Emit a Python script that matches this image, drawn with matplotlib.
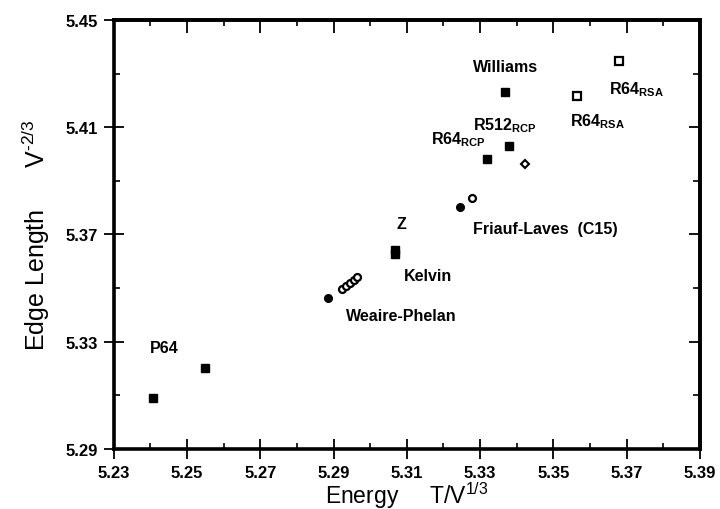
import numpy as np
import matplotlib
matplotlib.use('Agg')
import matplotlib.pyplot as plt
from matplotlib.ticker import FormatStrFormatter

plt.rcParams['font.family'] = ['Liberation Sans', 'DejaVu Sans']
plt.rcParams['mathtext.fontset'] = 'custom'
plt.rcParams['mathtext.rm'] = 'Liberation Sans'
plt.rcParams['mathtext.it'] = 'Liberation Sans'
plt.rcParams['mathtext.bf'] = 'Liberation Sans:bold'

# filled squares: P64 (2), Z, Kelvin, R64 RCP, R512 RCP, Williams
sq_energy = [5.2408, 5.2549, 5.3067, 5.3068, 5.3318, 5.3380, 5.3368]
sq_edge = [5.3089, 5.3203, 5.3642, 5.3625, 5.3980, 5.4029, 5.4232]
# filled circles: Weaire-Phelan, Friauf-Laves
dot_energy = [5.2886, 5.3245]
dot_edge = [5.3463, 5.3803]
# open circles: Weaire-Phelan variants, Friauf-Laves
ring_energy = [5.2924, 5.2934, 5.2945, 5.2955, 5.2965, 5.3278]
ring_edge = [5.3497, 5.3508, 5.3518, 5.3529, 5.3540, 5.3834]
# open squares: R64 RSA
box_energy = [5.3566, 5.3678]
box_edge = [5.4217, 5.4347]
# open diamond
dia_energy = [5.3422]
dia_edge = [5.3961]

# structure names
label_text = ['Williams', r'R64$_{\mathbf{RSA}}$', r'R512$_{\mathbf{RCP}}$',
              r'R64$_{\mathbf{RSA}}$', r'R64$_{\mathbf{RCP}}$',
              'Friauf-Laves  (C15)', 'Z', 'Kelvin', 'Weaire-Phelan', 'P64']
label_x = [5.3282, 5.3651, 5.3282, 5.3546, 5.3167, 5.3282, 5.3072, 5.3092, 5.2934, 5.2399]
label_y = [5.4310, 5.4227, 5.4093, 5.4105, 5.4041, 5.3705, 5.3722, 5.3530, 5.3380, 5.3262]

x_major = [5.23, 5.25, 5.27, 5.29, 5.31, 5.33, 5.35, 5.37, 5.39]
x_minor = [5.24, 5.26, 5.28, 5.30, 5.32, 5.34, 5.36, 5.38]
y_major = [5.29, 5.33, 5.37, 5.41, 5.45]
y_minor = [5.31, 5.35, 5.39, 5.43]

fig = plt.figure(figsize=(7.2, 5.1), dpi=100)
ax = fig.add_axes([0.158, 0.118, 0.814, 0.841])

ax.plot(sq_energy, sq_edge, 's', color='black', markersize=5.5, linestyle='none')
ax.plot(dot_energy, dot_edge, 'o', color='black', markersize=5.5, linestyle='none')
ax.plot(ring_energy, ring_edge, 'o', markerfacecolor='white', markeredgecolor='black',
        markersize=5, markeredgewidth=1.6, linestyle='none')
ax.plot(box_energy, box_edge, 's', markerfacecolor='white', markeredgecolor='black',
        markersize=5.5, markeredgewidth=1.6, linestyle='none')
ax.plot(dia_energy, dia_edge, 'D', markerfacecolor='white', markeredgecolor='black',
        markersize=4.5, markeredgewidth=1.5, linestyle='none')

for txt, x, y in zip(label_text, label_x, label_y):
    ax.text(x, y, txt, fontsize=11.5, fontweight='bold', ha='left', va='baseline')

ax.set_xlim(5.23, 5.39)
ax.set_ylim(5.29, 5.45)

ax.set_xticks(x_major)
ax.set_xticks(x_minor, minor=True)
ax.set_yticks(y_major)
ax.set_yticks(y_minor, minor=True)
ax.xaxis.set_major_formatter(FormatStrFormatter('%.2f'))
ax.yaxis.set_major_formatter(FormatStrFormatter('%.2f'))

ax.tick_params(which='major', direction='inout', length=15, width=1.3,
               labelsize=12, pad=4)
ax.tick_params(which='minor', direction='in', length=4, width=1.2)
for lab in ax.get_xticklabels() + ax.get_yticklabels():
    lab.set_fontweight('bold')

for sp in ax.spines.values():
    sp.set_linewidth(2.6)

top = ax.secondary_xaxis('top')
top.set_xticks(x_major)
top.set_xticks(x_minor, minor=True)
top.tick_params(which='major', direction='in', length=9, width=1.3, labeltop=False)
top.tick_params(which='minor', direction='in', length=4, width=1.2)
top.spines['top'].set_linewidth(2.6)

right = ax.secondary_yaxis('right')
right.set_yticks(y_major)
right.set_yticks(y_minor, minor=True)
right.tick_params(which='major', direction='in', length=8, width=1.3, labelright=False)
right.tick_params(which='minor', direction='in', length=5, width=1.2)
right.spines['right'].set_linewidth(2.6)

ax.set_xlabel('Energy     T/V$^{1/3}$', fontsize=16.5, labelpad=0)
ax.set_ylabel('Edge Length      V$^{\u20102/3}$', fontsize=18, labelpad=10)

fig.savefig('out.png', dpi=100)
